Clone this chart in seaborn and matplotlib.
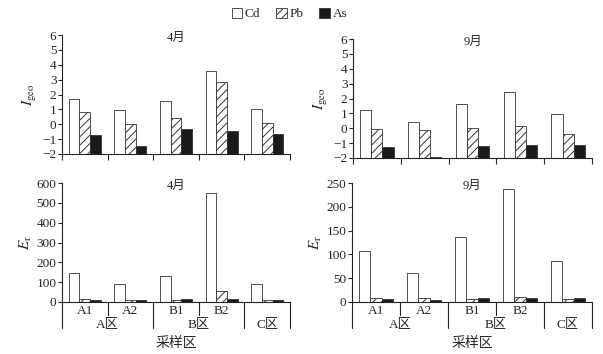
import numpy as np
import pandas as pd
import seaborn as sns
from matplotlib import pyplot as plt
from matplotlib import transforms

# sampling sites and areas
sites = ['A1', 'A2', 'B1', 'B2', 'C']
site_labels = ['A1', 'A2', 'B1', 'B2', '']
site_group = ['A区', 'A区', 'B区', 'B区', 'C区']
metals = ['Cd', 'Pb', 'As']

# Igeo, April / September
igeo_apr_cd = [1.67, 0.94, 1.54, 3.59, 1.02]
igeo_apr_pb = [0.85, 0.02, 0.40, 2.83, 0.11]
igeo_apr_as = [-0.71, -1.47, -0.33, -0.45, -0.67]
igeo_sep_cd = [1.26, 0.45, 1.61, 2.42, 0.96]
igeo_sep_pb = [-0.03, -0.13, 0.00, 0.13, -0.36]
igeo_sep_as = [-1.28, -1.93, -1.19, -1.10, -1.14]

# Er, April / September
er_apr_cd = [146, 89, 129, 550, 92]
er_apr_pb = [13, 8, 10, 55, 10]
er_apr_as = [12, 8, 15, 15, 12]
er_sep_cd = [107, 60, 137, 237, 87]
er_sep_pb = [8, 8, 7, 10, 6]
er_sep_as = [7, 4, 8, 8, 8]

sns.set_style('ticks')
plt.rcParams['font.family'] = ['Liberation Serif', 'Noto Sans CJK SC']
plt.rcParams['mathtext.fontset'] = 'stix'
plt.rcParams['hatch.linewidth'] = 0.7
plt.rcParams['font.size'] = 9


def to_long(cd, pb, As):
    rows = []
    for m, vals in zip(metals, [cd, pb, As]):
        for s, v in zip(sites, vals):
            rows.append({'site': s, 'metal': m, 'value': v})
    return pd.DataFrame(rows)


def draw_panel(ax, df, ylim, yticks, ylabel, title, multilevel):
    sns.barplot(data=df, x='site', y='value', hue='metal', order=sites, hue_order=metals,
                palette=['white', 'white', '#1a1a1a'], width=0.7, saturation=1,
                edgecolor='#333333', linewidth=0.6, legend=False, ax=ax)
    ax.containers[1].patches  # Pb hatched
    for p in ax.containers[1]:
        p.set_hatch('////')
    base = ylim[0]
    if base != 0:
        # bars start from the bottom of the axis
        for cont in ax.containers:
            for p in cont:
                h = p.get_height()
                p.set_y(base)
                p.set_height(h - base)
    ax.set_ylim(*ylim)
    ax.set_xlim(-0.5, len(sites) - 0.5)
    ax.set_yticks(yticks)
    ax.set_ylabel(ylabel, fontsize=11, labelpad=2)
    ax.set_xlabel('')
    ax.text(0.5, 0.975, title, transform=ax.transAxes, ha='center', va='center', fontsize=9)
    sns.despine(ax=ax)
    for sp in ['left', 'bottom']:
        ax.spines[sp].set_linewidth(0.8)
        ax.spines[sp].set_color('#222222')
    ax.tick_params(axis='y', length=3, width=0.8, pad=1, labelsize=9.5)
    bounds = np.arange(len(sites) + 1) - 0.5
    if not multilevel:
        ax.set_xticks(bounds)
        ax.set_xticklabels([])
        ax.tick_params(axis='x', length=4, width=0.8)
        return
    ax.set_xticks([])
    tr = transforms.blended_transform_factory(ax.transData, ax.transAxes)
    for i, b in enumerate(bounds):
        if i == 0 or i == len(sites) or site_group[i - 1] != site_group[i]:
            low = -0.22
        else:
            low = -0.11
        ax.plot([b, b], [0, low], transform=tr, color='#222222', lw=0.8, clip_on=False)
    for i, lab in enumerate(site_labels):
        ax.text(i, -0.075, lab, transform=tr, ha='center', va='center', fontsize=9.5)
    groups = list(dict.fromkeys(site_group))
    for g in groups:
        idx = [i for i, sg in enumerate(site_group) if sg == g]
        ax.text(np.mean(idx), -0.19, g, transform=tr, ha='center', va='center', fontsize=9.5)


fig = plt.figure(figsize=(6.03, 3.54), dpi=100)
ax1 = fig.add_axes([62 / 603, 1 - 154 / 354, 228 / 603, 119 / 354])
ax2 = fig.add_axes([353 / 603, 1 - 158 / 354, 239 / 603, 119 / 354])
ax3 = fig.add_axes([62 / 603, 1 - 302 / 354, 228 / 603, 119 / 354])
ax4 = fig.add_axes([352 / 603, 1 - 302 / 354, 240 / 603, 119 / 354])

draw_panel(ax1, to_long(igeo_apr_cd, igeo_apr_pb, igeo_apr_as), (-2, 6), range(-2, 7),
           r'$I_{\rm geo}$', '4月', False)
draw_panel(ax2, to_long(igeo_sep_cd, igeo_sep_pb, igeo_sep_as), (-2, 6), range(-2, 7),
           r'$I_{\rm geo}$', '9月', False)
draw_panel(ax3, to_long(er_apr_cd, er_apr_pb, er_apr_as), (0, 600), range(0, 601, 100),
           r'$E_{\rm r}$', '4月', True)
draw_panel(ax4, to_long(er_sep_cd, er_sep_pb, er_sep_as), (0, 250), range(0, 251, 50),
           r'$E_{\rm r}$', '9月', True)

fig.text((62 + 290) / 2 / 603, 1 - 343 / 354, '采样区', ha='center', va='center', fontsize=10)
fig.text((352 + 592) / 2 / 603, 1 - 343 / 354, '采样区', ha='center', va='center', fontsize=10)

fig.legend(handles=list(ax1.containers), labels=metals, loc='center', bbox_to_anchor=(0.48, 0.96),
           ncol=3, frameon=False, handlelength=0.8, handleheight=0.8, handletextpad=0.2,
           columnspacing=1.2, fontsize=9.5)

plt.savefig('out.png', dpi=100)
